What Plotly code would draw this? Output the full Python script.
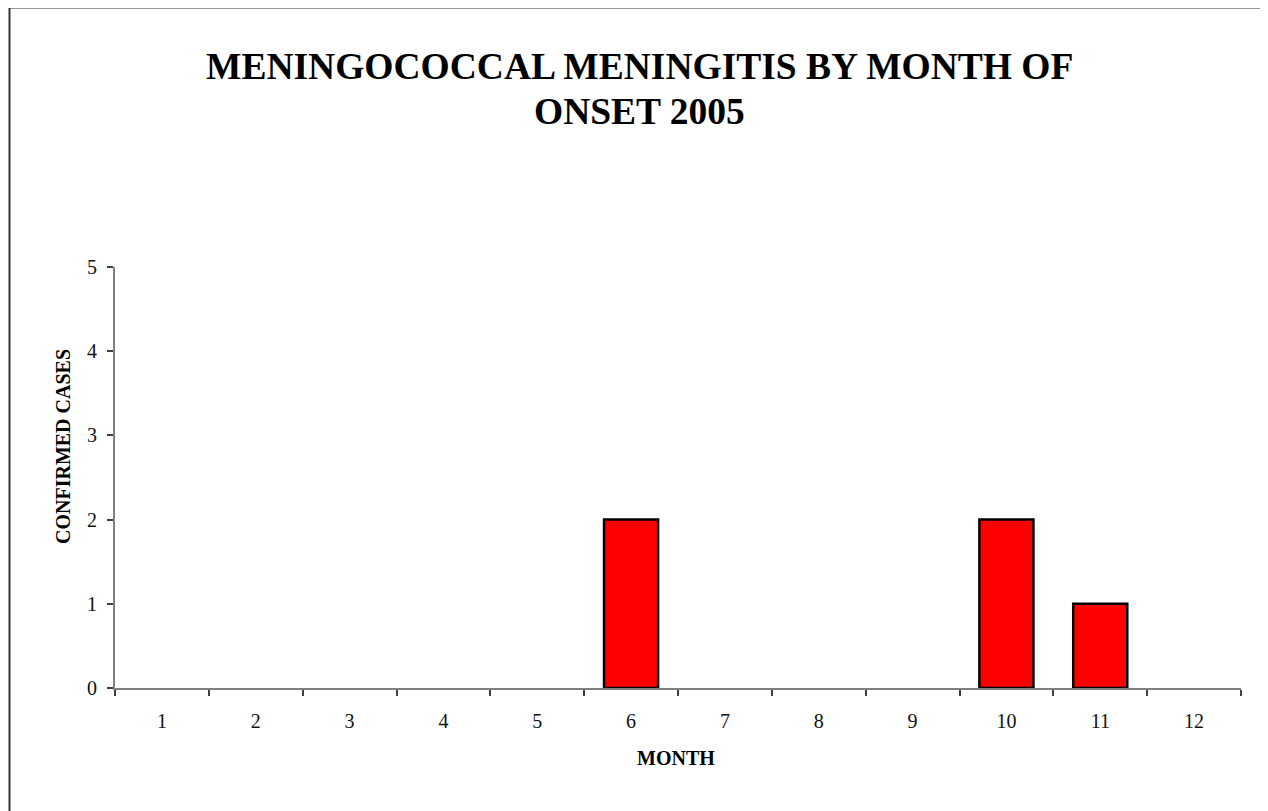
"""
Meningococcal meningitis, confirmed cases by month of onset, 2005.
"""
import plotly.graph_objects as go

months = ["1", "2", "3", "4", "5", "6", "7", "8", "9", "10", "11", "12"]
cases = [0, 0, 0, 0, 0, 2, 0, 0, 0, 2, 1, 0]
y_ticks = [0, 1, 2, 3, 4, 5]

title_lines = ["MENINGOCOCCAL MENINGITIS BY MONTH OF", "ONSET 2005"]
y_title = "CONFIRMED CASES"
x_title = "MONTH"

SERIF = "Liberation Serif, Times New Roman, serif"

# empty months get no bar at all (no outline stub on the axis)
bar_values = [v if v else None for v in cases]

fig = go.Figure()
fig.add_trace(go.Bar(
    x=months,
    y=bar_values,
    marker=dict(color="#ff0000", line=dict(color="#000000", width=2.5)),
    hoverinfo="x+y",
))

fig.update_layout(
    width=1268,
    height=811,
    margin=dict(l=107, r=35, t=259, b=131),
    paper_bgcolor="white",
    plot_bgcolor="white",
    showlegend=False,
    bargap=0.424,
    font=dict(family=SERIF, size=20, color="#000000"),
)

fig.update_xaxes(
    type="category",
    categoryorder="array",
    categoryarray=months,
    showgrid=False,
    showline=True,
    linecolor="#808080",
    linewidth=2,
    ticks="outside",
    tickson="boundaries",
    ticklen=6,
    tickwidth=1.5,
    tickcolor="#404040",
    ticklabelstandoff=14,
    tickfont=dict(family=SERIF, size=20, color="#111111"),
)
fig.update_yaxes(
    range=[0, 5],
    tickvals=y_ticks,
    showgrid=False,
    zeroline=False,
    showline=True,
    linecolor="#808080",
    linewidth=2,
    ticks="outside",
    ticklen=6,
    tickwidth=1.5,
    tickcolor="#404040",
    ticklabelstandoff=6,
    tickfont=dict(family=SERIF, size=20, color="#111111"),
)

# title, two lines placed separately to match the spacing
fig.add_annotation(text="<b>%s</b>" % title_lines[0], xref="paper", yref="paper",
                   x=0.4654, y=1.4774, showarrow=False, xanchor="center",
                   yanchor="middle", font=dict(family=SERIF, size=37.5))
fig.add_annotation(text="<b>%s</b>" % title_lines[1], xref="paper", yref="paper",
                   x=0.4654, y=1.3682, showarrow=False, xanchor="center",
                   yanchor="middle", font=dict(family=SERIF, size=37.5))

# axis titles
fig.add_annotation(text="<b>%s</b>" % y_title, xref="paper", yref="paper",
                   x=-0.0462, y=0.5748, showarrow=False, textangle=-90,
                   xanchor="center", yanchor="middle",
                   font=dict(family=SERIF, size=20))
fig.add_annotation(text="<b>%s</b>" % x_title, xref="paper", yref="paper",
                   x=0.498, y=-0.166, showarrow=False, xanchor="center",
                   yanchor="middle", font=dict(family=SERIF, size=20))

# chart area border
fig.add_shape(type="rect", xref="paper", yref="paper",
              x0=-0.0937, x1=1.03, y0=-0.33, y1=1.6164,
              line=dict(color="#333333", width=2), fillcolor="rgba(0,0,0,0)")

fig.write_html("out.html")
